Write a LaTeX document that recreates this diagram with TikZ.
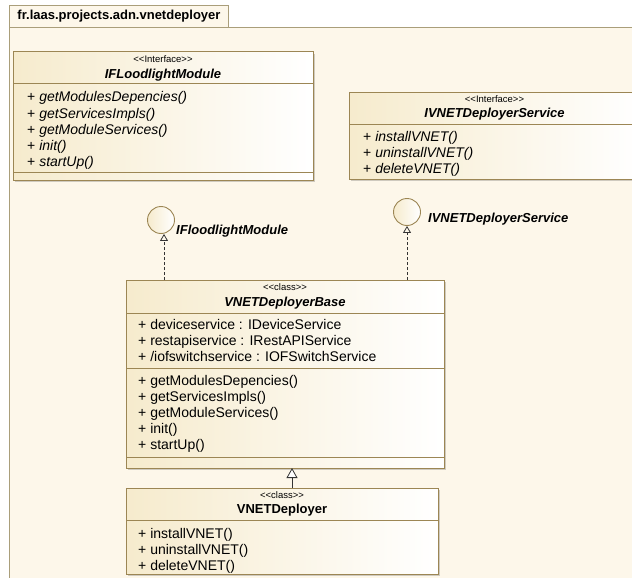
\documentclass[tikz,border=0pt]{standalone}
\usepackage{fontspec}
\newfontfamily\umlf{Liberation Sans}
\usetikzlibrary{arrows.meta,shadows}
\definecolor{pkgfill}{RGB}{253,247,234}
\definecolor{pkgline}{RGB}{170,158,122}
\definecolor{boxborder}{RGB}{156,134,84}
\definecolor{boxleft}{RGB}{246,235,205}
\tikzset{
  umlbox/.style={draw=boxborder, line width=1pt, left color=boxleft, right color=white,
    anchor=north west, inner sep=0pt, outer sep=0pt,
    drop shadow={shadow xshift=2pt, shadow yshift=-2pt, fill=black, opacity=0.18}},
  sepline/.style={draw=boxborder, line width=1pt},
  stereo/.style={font=\umlf\fontsize{9.5}{10}\selectfont, inner sep=0pt, anchor=base},
  cname/.style={font=\umlf\bfseries\itshape\fontsize{13}{15}\selectfont, inner sep=0pt, anchor=base},
  cnameup/.style={font=\umlf\bfseries\fontsize{13}{15}\selectfont, inner sep=0pt, anchor=base},
  member/.style={font=\umlf\fontsize{14}{16}\selectfont, inner sep=0pt, anchor=base west},
  lollipop/.style={circle, draw=boxborder, line width=0.9pt, left color=boxleft, right color=white,
    minimum size=27pt, inner sep=0pt},
  realize/.style={draw=black!80, line width=0.8pt, dash pattern=on 3pt off 2pt,
    -{Triangle[open, length=7pt, width=8pt]}},
  generalize/.style={draw=black!80, line width=0.8pt, -{Triangle[open, length=10pt, width=11pt, fill=white]}},
}
\begin{document}
\begin{tikzpicture}[x=1pt, y=-1pt]
\useasboundingbox (0,0) rectangle (632,578);
\fill[white] (0,0) rectangle (632,578);
% package
\node[draw=pkgline, fill=pkgfill, line width=1pt, anchor=north west, minimum width=640pt,
  minimum height=570pt, inner sep=0pt] (pkg) at (9,27) {};
\node[draw=pkgline, fill=pkgfill, line width=1pt, anchor=north west, minimum width=219pt,
  minimum height=22pt, inner sep=0pt, font=\umlf\bfseries\fontsize{13}{15}\selectfont] (tab) at (9,5)
  {fr.laas.projects.adn.vnetdeployer};

% IFLoodlightModule interface
\node[umlbox, minimum width=300pt, minimum height=128pt] (ifl) at (13,52) {};
\node[stereo] (ifls) at (163,62.5) {<<Interface>>};
\node[cname] (ifln) at (163,78.5) {IFLoodlightModule};
\draw[sepline] (13,84) -- (313,84);
\draw[sepline] (13,172) -- (313,172);
\node[member] (iflo1) at (27,102) {+ \textit{getModulesDepencies()}};
\node[member] (iflo2) at (27,118) {+ \textit{getServicesImpls()}};
\node[member] (iflo3) at (27,134) {+ \textit{getModuleServices()}};
\node[member] (iflo4) at (27,150) {+ \textit{init()}};
\node[member] (iflo5) at (27,166) {+ \textit{startUp()}};

% IVNETDeployerService interface
\node[umlbox, minimum width=291pt, minimum height=87pt] (ivs) at (349,92) {};
\node[stereo] (ivss) at (494.5,102.5) {<<Interface>>};
\node[cname] (ivsn) at (494.5,117.5) {IVNETDeployerService};
\draw[sepline] (349,124) -- (640,124);
\node[member] (ivso1) at (363,141) {+ \textit{installVNET()}};
\node[member] (ivso2) at (363,157) {+ \textit{uninstallVNET()}};
\node[member] (ivso3) at (363,173) {+ \textit{deleteVNET()}};

% VNETDeployerBase
\node[umlbox, minimum width=318pt, minimum height=188pt] (base) at (126,280) {};
\node[stereo] (bases) at (285,290.5) {<<class>>};
\node[cname] (basen) at (285,306.5) {VNETDeployerBase};
\draw[sepline] (126,313) -- (444,313);
\node[member] (basea1) at (138,329) {+ deviceservice : IDeviceService};
\node[member] (basea2) at (138,345) {+ restapiservice : IRestAPIService};
\node[member] (basea3) at (138,361) {+ /iofswitchservice : IOFSwitchService};
\draw[sepline] (126,368) -- (444,368);
\node[member] (baseo1) at (138,385.5) {+ getModulesDepencies()};
\node[member] (baseo2) at (138,401) {+ getServicesImpls()};
\node[member] (baseo3) at (138,417) {+ getModuleServices()};
\node[member] (baseo4) at (138,433) {+ init()};
\node[member] (baseo5) at (138,449) {+ startUp()};
\draw[sepline] (126,457) -- (444,457);

% VNETDeployer
\node[umlbox, minimum width=312pt, minimum height=86pt] (vd) at (126,488) {};
\node[stereo] (vds) at (282,498.5) {<<class>>};
\node[cnameup] (vdn) at (282,513.5) {VNETDeployer};
\draw[sepline] (126,520) -- (438,520);
\node[member] (vdo1) at (138,538) {+ installVNET()};
\node[member] (vdo2) at (138,554) {+ uninstallVNET()};
\node[member] (vdo3) at (138,570) {+ deleteVNET()};

% lollipops
\node[lollipop] (lolA) at (161,220) {};
\node[cname, anchor=base west] (lolAl) at (176,234) {IFloodlightModule};
\node[lollipop] (lolB) at (407,212) {};
\node[cname, anchor=base west] (lolBl) at (428,222) {IVNETDeployerService};

\draw[realize] ([xshift=3pt]lolA.south |- base.north) -- ([xshift=3pt]lolA.south);
\draw[realize] (lolB.south |- base.north) -- (lolB.south);

% generalization
\draw[generalize] ([xshift=10pt]vd.north) -- ([xshift=10pt]vd.north |- base.south);
\end{tikzpicture}
\end{document}
